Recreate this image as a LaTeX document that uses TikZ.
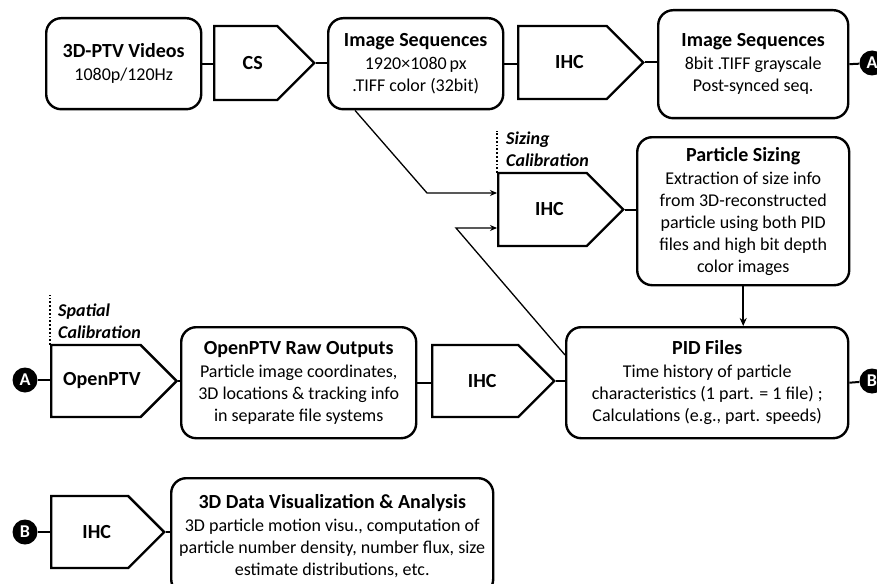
\documentclass[tikz,border=0pt]{standalone}
\usepackage{fontspec}
\setmainfont{Carlito}
\usetikzlibrary{shapes.symbols,arrows.meta}
\newcommand\ttl[1]{{\fontsize{20}{24}\selectfont\bfseries #1}}
\newcommand\pshift[1]{\hspace*{#1}}
\begin{document}
\begin{tikzpicture}[x=1pt,y=-1pt,
  box/.style={draw, line width=2.4pt, rounded corners=15pt, align=center, inner sep=2pt, font=\fontsize{18}{22}\selectfont, anchor=north west},
  proc/.style={draw, line width=2.4pt, shape=signal, signal to=east, signal pointer angle=90, anchor=west, inner sep=0pt, font=\bfseries\fontsize{20}{24}\selectfont},
  dotc/.style={circle, fill=black, text=white, minimum size=25pt, inner sep=0pt, font=\bfseries\fontsize{18}{20}\selectfont},
  conn/.style={line width=2pt},
  thinarrow/.style={line width=1.3pt, -{Stealth[length=7pt,width=6pt]}},
  cal/.style={font=\bfseries\itshape\fontsize{18}{22}\selectfont, align=left, anchor=north west, inner sep=0pt},
  calline/.style={line width=1.8pt, dotted},
]
\useasboundingbox (0,0) rectangle (877,583);

% top row
\node[box, minimum width=155pt, minimum height=91pt] (v) at (45,17) {\ttl{3D-PTV Videos}\\[1pt]1080p/120Hz};
\node[proc, minimum width=100pt, minimum height=74pt] (cs) at (213,63) {\pshift{14pt}CS};
\node[box, minimum width=175pt, minimum height=91pt] (is1) at (327,17) {\ttl{Image Sequences}\\[1pt]1920×1080\,px\\.TIFF color (32bit)};
\node[proc, minimum width=125pt, minimum height=73pt] (ihc1) at (517,62.5) {\pshift{14pt}IHC};
\node[box, minimum width=190pt, minimum height=108pt] (is2) at (657,9) {\ttl{Image Sequences}\\[1pt]8bit .TIFF grayscale\\Post-synced seq.};
\node[dotc] (Ar) at (872,63) {A};

% sizing row
\node[proc, minimum width=125pt, minimum height=73pt] (sihc) at (497,209.5) {\pshift{14pt}IHC};
\node[box, minimum width=212pt, minimum height=148pt] (ps) at (636,136) {\ttl{Particle Sizing}\\[1pt]Extraction of size info\\from 3D-reconstructed\\particle using both PID\\files and high bit depth\\color images};
\node[cal] (scal) at (506,132) {Sizing\\Calibration};

% middle row
\node[dotc] (Al) at (25,380) {A};
\node[proc, minimum width=117pt, minimum height=72pt] (optv) at (50,381) {\pshift{12pt}OpenPTV};
\node[cal] (spcal) at (58,304) {Spatial\\Calibration};
\node[box, minimum width=235pt, minimum height=111pt] (raw) at (180,326) {\ttl{OpenPTV Raw Outputs}\\[1pt]Particle image coordinates,\\3D locations \& tracking info\\in separate file systems};
\node[proc, minimum width=122pt, minimum height=72pt] (ihc2) at (431,381) {\pshift{14pt}IHC};
\node[box, minimum width=282pt, minimum height=111pt] (pid) at (565,326) {\ttl{PID Files}\\[1pt]Time history of particle\\characteristics (1 part. = 1 file) ;\\Calculations (e.g., part. speeds)};
\node[dotc] (Br) at (872,381) {B};

% bottom row
\node[dotc] (Bl) at (25,532) {B};
\node[proc, minimum width=113pt, minimum height=72pt] (ihc3) at (50,532) {\pshift{14pt}IHC};
\node[box, minimum width=322pt, minimum height=116pt] (bot) at (170,477) {\ttl{3D Data Visualization \& Analysis}\\[1pt]3D particle motion visu., computation of\\particle number density, number flux, size\\estimate distributions, etc.};

% connectors
\draw[conn] (v.east) -- (v.east -| cs.west);
\draw[conn] (cs.east) -- (cs.east -| is1.west);
\draw[conn] (is1.east) -- (is1.east -| ihc1.west);
\draw[conn] (ihc1.east) -- (ihc1.east -| is2.west);
\draw[conn] (is2.east) -- (Ar);
\draw[conn] (sihc.east) -- (sihc.east -| ps.west);
\draw[conn] (Al) -- (Al -| optv.west);
\draw[conn] (optv.east) -- (optv.east -| raw.west);
\draw[conn] (raw.east) -- (raw.east -| ihc2.west);
\draw[conn] (ihc2.east) -- (ihc2.east -| pid.west);
\draw[conn] (pid.east) -- (Br);
\draw[conn] (Bl) -- (Bl -| ihc3.west);
\draw[conn] (ihc3.east) -- (ihc3.east -| bot.west);

\coordinate (k1) at (427,193);
\coordinate (k2) at (456,228);
\draw[thinarrow] ([xshift=28pt]is1.south west) -- (k1) -- (k1 -| sihc.west);
\draw[thinarrow] ([yshift=-29pt]pid.north west) -- (k2) -- (k2 -| sihc.west);
\draw[line width=1.6pt, -{Stealth[length=8pt,width=7pt]}] (ps.south) -- (ps.south |- pid.north);

\draw[calline] (sihc.west) ++(0,-36.5) -- ++(0,-42);
\draw[calline] (optv.west) ++(0,-36) -- ++(0,-50);
\end{tikzpicture}
\end{document}
